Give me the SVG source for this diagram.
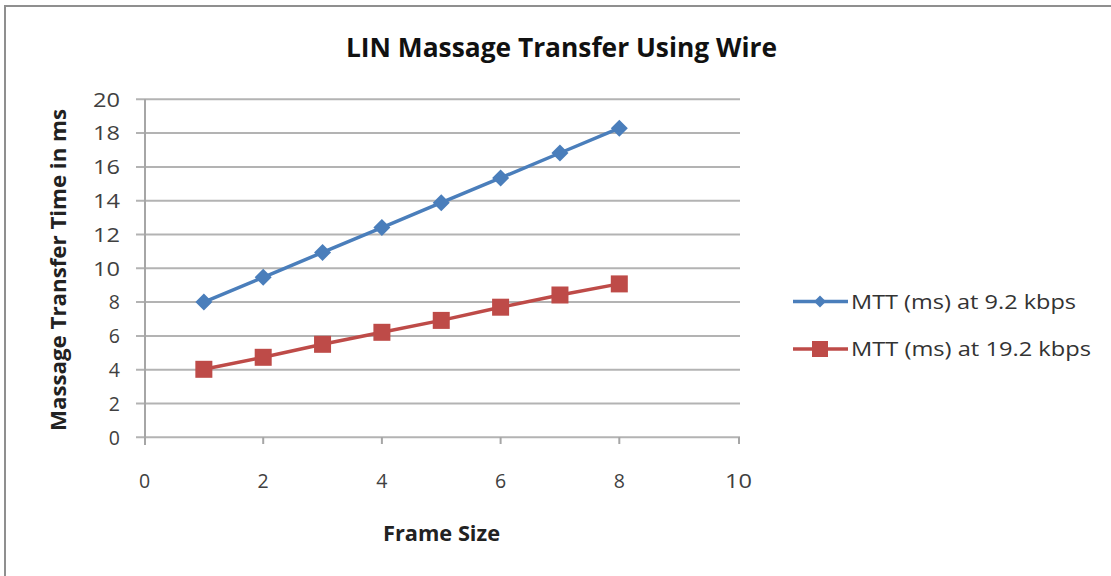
<svg xmlns="http://www.w3.org/2000/svg" width="1111" height="576" viewBox="0 0 1111 576">
<defs>
<style>
.grid{stroke:#b3b3b3;stroke-width:2;fill:none}
.axis{stroke:#a6a6a6;stroke-width:2;fill:none}
.tick{font-family:"Open Sans","Liberation Sans",Arial,sans-serif;font-size:19.5px;fill:#404040}
.ylab{text-anchor:end}
.xlab{text-anchor:middle}
.title{font-family:"Open Sans","Liberation Sans",Arial,sans-serif;font-size:26px;font-weight:bold;fill:#111;text-anchor:middle}
.alab{font-family:"Open Sans","Liberation Sans",Arial,sans-serif;font-size:21px;font-weight:bold;fill:#222;text-anchor:middle}
.leg{font-family:"Open Sans","Liberation Sans",Arial,sans-serif;font-size:20px;fill:#333}
.blue{stroke:#4a7ebb;stroke-width:3.5;fill:none;stroke-linejoin:round}
.red{stroke:#be4b48;stroke-width:3.5;fill:none;stroke-linejoin:round}
</style>
<path id="dia" d="M0,-8.5 L8.5,0 L0,8.5 L-8.5,0 Z" fill="#4a7ebb"/>
<rect id="sq" x="-8.5" y="-8.5" width="17" height="17" fill="#be4b48"/>
</defs>
<rect x="0" y="0" width="1111" height="576" fill="#ffffff"/>
<rect x="5" y="6" width="1200" height="700" fill="none" stroke="#8f8f8f" stroke-width="2"/>
<text class="title" x="561.5" y="57" textLength="431" lengthAdjust="spacingAndGlyphs">LIN Massage Transfer Using Wire</text>
<g id="gridlines">
<line class="grid" x1="136" y1="99.3" x2="740" y2="99.3"/>
<line class="grid" x1="136" y1="133.1" x2="740" y2="133.1"/>
<line class="grid" x1="136" y1="166.9" x2="740" y2="166.9"/>
<line class="grid" x1="136" y1="200.7" x2="740" y2="200.7"/>
<line class="grid" x1="136" y1="234.5" x2="740" y2="234.5"/>
<line class="grid" x1="136" y1="268.3" x2="740" y2="268.3"/>
<line class="grid" x1="136" y1="302.1" x2="740" y2="302.1"/>
<line class="grid" x1="136" y1="335.9" x2="740" y2="335.9"/>
<line class="grid" x1="136" y1="369.7" x2="740" y2="369.7"/>
<line class="grid" x1="136" y1="403.5" x2="740" y2="403.5"/>
<line class="grid" x1="136" y1="437.3" x2="740" y2="437.3"/>
</g>
<g id="axes">
<line class="axis" x1="145" y1="99" x2="145" y2="445"/>
<line class="axis" x1="263.2" y1="437" x2="263.2" y2="444"/>
<line class="axis" x1="381.9" y1="437" x2="381.9" y2="444"/>
<line class="axis" x1="500.6" y1="437" x2="500.6" y2="444"/>
<line class="axis" x1="619.3" y1="437" x2="619.3" y2="444"/>
<line class="axis" x1="739" y1="437" x2="739" y2="444"/>
</g>
<g id="ytick-labels" class="tick ylab">
<text x="120" y="106.5" textLength="27" lengthAdjust="spacingAndGlyphs">20</text>
<text x="120" y="140.3" textLength="27" lengthAdjust="spacingAndGlyphs">18</text>
<text x="120" y="174.1" textLength="27" lengthAdjust="spacingAndGlyphs">16</text>
<text x="120" y="207.9" textLength="27" lengthAdjust="spacingAndGlyphs">14</text>
<text x="120" y="241.7" textLength="27" lengthAdjust="spacingAndGlyphs">12</text>
<text x="120" y="275.5" textLength="27" lengthAdjust="spacingAndGlyphs">10</text>
<text x="120" y="309.3">8</text>
<text x="120" y="343.1">6</text>
<text x="120" y="376.9">4</text>
<text x="120" y="410.7">2</text>
<text x="120" y="444.5">0</text>
</g>
<g id="xtick-labels" class="tick xlab">
<text x="144.5" y="488">0</text>
<text x="263.2" y="488">2</text>
<text x="381.9" y="488">4</text>
<text x="500.6" y="488">6</text>
<text x="619.3" y="488">8</text>
<text x="738.5" y="488" textLength="27" lengthAdjust="spacingAndGlyphs">10</text>
</g>
<text class="alab" transform="translate(66,270) rotate(-90)" textLength="322" lengthAdjust="spacingAndGlyphs">Massage Transfer Time in ms</text>
<text class="alab" x="441.5" y="541" textLength="117" lengthAdjust="spacingAndGlyphs">Frame Size</text>
<g id="series-9k2">
<polyline class="blue" points="203.85,302.1 263.2,277.3 322.55,252.4 381.9,227.6 441.25,202.7 500.6,177.9 559.95,153.0 619.3,128.2"/>
<use href="#dia" x="203.85" y="302.1"/>
<use href="#dia" x="263.2" y="277.3"/>
<use href="#dia" x="322.55" y="252.4"/>
<use href="#dia" x="381.9" y="227.6"/>
<use href="#dia" x="441.25" y="202.7"/>
<use href="#dia" x="500.6" y="177.9"/>
<use href="#dia" x="559.95" y="153.0"/>
<use href="#dia" x="619.3" y="128.2"/>
</g>
<g id="series-19k2">
<polyline class="red" points="203.85,369.3 263.2,357.3 322.55,344.3 381.9,332.3 441.25,320.4 500.6,307.2 559.95,295.0 619.3,283.9"/>
<use href="#sq" x="203.85" y="369.3"/>
<use href="#sq" x="263.2" y="357.3"/>
<use href="#sq" x="322.55" y="344.3"/>
<use href="#sq" x="381.9" y="332.3"/>
<use href="#sq" x="441.25" y="320.4"/>
<use href="#sq" x="500.6" y="307.2"/>
<use href="#sq" x="559.95" y="295.0"/>
<use href="#sq" x="619.3" y="283.9"/>
</g>
<g id="legend">
<line class="blue" x1="793" y1="301.5" x2="848" y2="301.5"/>
<path d="M820,-6 L826,0 L820,6 L814,0 Z" transform="translate(0,301.5)" fill="#4a7ebb"/>
<text class="leg" x="851" y="308.5" textLength="225" lengthAdjust="spacingAndGlyphs">MTT (ms) at 9.2 kbps</text>
<line class="red" x1="793" y1="349" x2="848" y2="349"/>
<rect x="812" y="341" width="16" height="16" fill="#be4b48"/>
<text class="leg" x="851" y="356" textLength="240" lengthAdjust="spacingAndGlyphs">MTT (ms) at 19.2 kbps</text>
</g>
</svg>
